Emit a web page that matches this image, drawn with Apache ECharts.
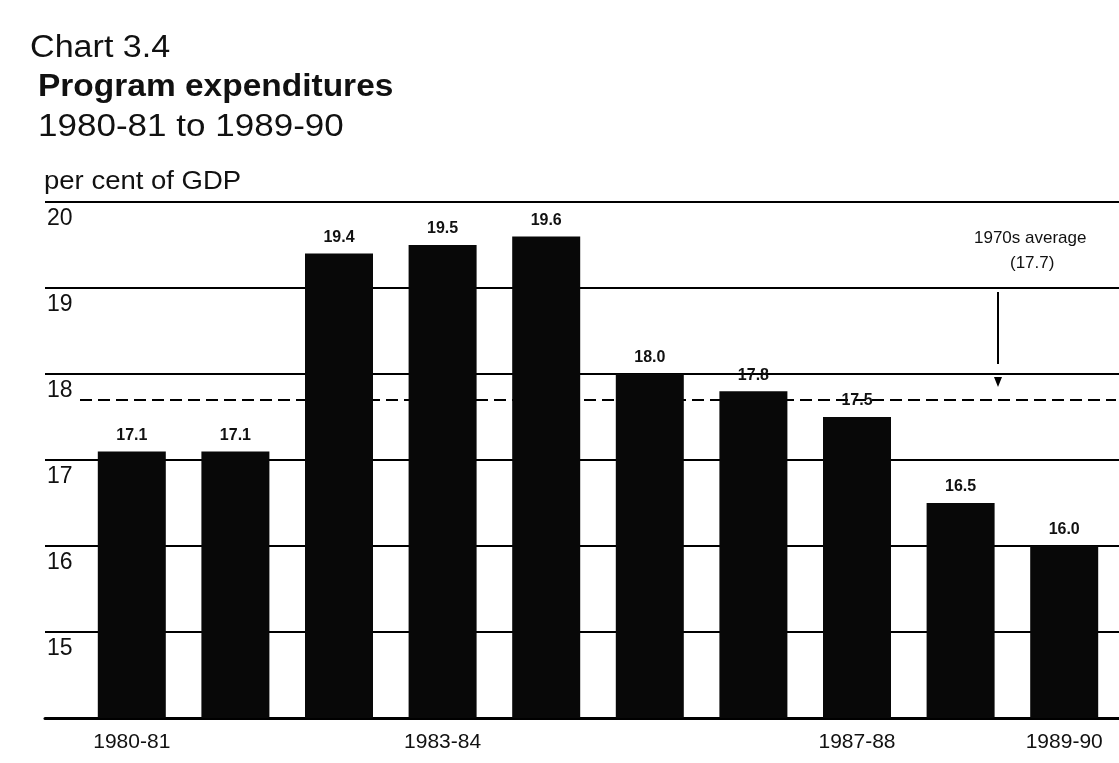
<!DOCTYPE html>
<html>
<head>
<meta charset="utf-8">
<script src="https://cdn.jsdelivr.net/npm/echarts@6/dist/echarts.min.js"></script>
<style>
  html, body { margin: 0; padding: 0; background: #fff; }
  #chart { width: 1119px; height: 763px; }
</style>
</head>
<body>
<div id="chart"></div>
<script>
// fiscal years
const years = ['1980-81', '1981-82', '1982-83', '1983-84', '1984-85',
  '1985-86', '1986-87', '1987-88', '1988-89', '1989-90'];
// program expenditures, per cent of GDP
const programSpending = [17.1, 17.1, 19.4, 19.5, 19.6, 18.0, 17.8, 17.5, 16.5, 16.0];
// only these years are labelled on the axis
const labelledYears = ['1980-81', '1983-84', '1987-88', '1989-90'];
const seventiesAverage = 17.7;
const yTicks = [15, 16, 17, 18, 19, 20];

const FONT = '"Liberation Sans", Arial, sans-serif';
const chart = echarts.init(document.getElementById('chart'), null, { renderer: 'canvas' });

// scanned original is a little wider than tall, so titles get stretched
function titleText(text, x, y, size, weight, sx) {
  return {
    type: 'text', x: x, y: y, scaleX: sx,
    style: { text: text, font: weight + ' ' + size + 'px ' + FONT, fill: '#111' }
  };
}

const option = {
  backgroundColor: '#fff',
  animation: false,
  textStyle: { fontFamily: FONT, color: '#111' },
  grid: [
    // full-width grid for the horizontal rules
    { left: 45, right: 0, top: 202, bottom: 45 },
    // grid holding the bars
    { left: 80, right: 3, top: 202, bottom: 45 }
  ],
  xAxis: [
    {
      gridIndex: 0, type: 'value', min: 0, max: 1,
      axisLine: { show: true, lineStyle: { color: '#000', width: 3 } },
      axisTick: { show: false }, axisLabel: { show: false }, splitLine: { show: false }
    },
    {
      gridIndex: 1, type: 'category', data: years,
      axisLine: { show: false }, axisTick: { show: false },
      axisLabel: {
        interval: (i, v) => labelledYears.includes(v),
        margin: 14, fontSize: 21, color: '#111', fontFamily: FONT
      }
    }
  ],
  yAxis: [
    {
      gridIndex: 0, type: 'value', min: 14, max: 20, interval: 1,
      axisLine: { show: false }, axisTick: { show: false },
      axisLabel: {
        inside: true, margin: 2, verticalAlign: 'top', padding: [5, 0, 0, 0],
        fontSize: 23, color: '#111', fontFamily: FONT,
        formatter: v => (yTicks.includes(v) ? String(v) : '')
      },
      splitLine: { show: true, lineStyle: { color: '#000', width: 2 } }
    },
    {
      gridIndex: 1, type: 'value', min: 14, max: 20, interval: 1,
      show: false, splitLine: { show: false }
    }
  ],
  series: [
    {
      type: 'bar',
      xAxisIndex: 1, yAxisIndex: 1,
      data: programSpending,
      barWidth: 68,
      itemStyle: { color: '#080808' },
      label: {
        show: true, position: 'top', distance: 8,
        fontSize: 16, fontWeight: 'bold', color: '#111', fontFamily: FONT,
        formatter: p => p.value.toFixed(1)
      },
      markLine: {
        silent: true, symbol: 'none', z: 1,
        label: { show: false },
        lineStyle: { color: '#000', type: [12, 6], width: 2 },
        data: [{ yAxis: seventiesAverage }]
      }
    }
  ],
  graphic: [
    titleText('Chart 3.4', 30, 33, 31, 'normal', 1.1),
    titleText('Program expenditures', 38, 72, 31, 'bold', 1.08),
    titleText('1980-81 to 1989-90', 38, 112, 31, 'normal', 1.13),
    titleText('per cent of GDP', 44, 170, 25, 'normal', 1.1),
    {
      type: 'text', left: 974, top: 230,
      style: { text: '1970s average', font: '17px ' + FONT, fill: '#111' }
    },
    {
      type: 'text', left: 1010, top: 255,
      style: { text: '(17.7)', font: '17px ' + FONT, fill: '#111' }
    },
    {
      type: 'line', shape: { x1: 998, y1: 292, x2: 998, y2: 364 },
      style: { stroke: '#000', lineWidth: 2 }
    },
    {
      type: 'polygon', shape: { points: [[994, 377], [1002, 377], [998, 387]] },
      style: { fill: '#000' }
    }
  ]
};

chart.setOption(option);
</script>
</body>
</html>
